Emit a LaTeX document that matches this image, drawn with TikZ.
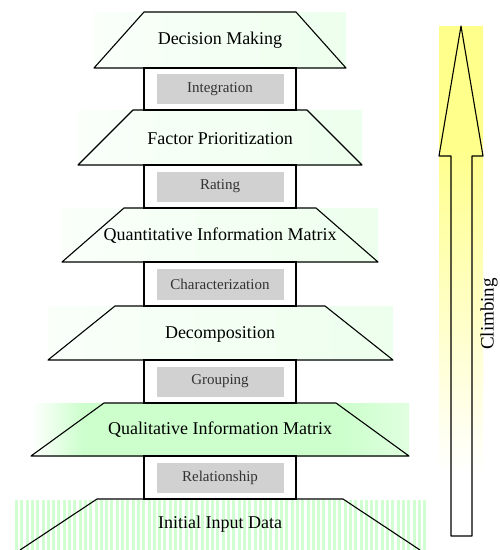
\documentclass[tikz,border=0pt]{standalone}
\usepackage{fontspec}
\setmainfont{Liberation Serif}
\pgfdeclarehorizontalshading{qualshade}{100bp}{color(0bp)=(white); color(25bp)=(white); color(32bp)=(green!20); color(66bp)=(green!20); color(75bp)=(green!12); color(100bp)=(green!12)}
\pgfdeclareverticalshading{climbshade}{100bp}{color(0bp)=(white); color(31bp)=(white); color(63bp)=(yellow!45); color(100bp)=(yellow!45)}
\tikzset{
  layer/.style={line width=1.1pt, line join=round},
  pale/.style={left color=green!2, right color=green!7},
  linkbox/.style={draw, line width=1.6pt, fill=white, minimum width=152pt, inner sep=0pt},
  steplabel/.style={fill=black!18, text=black!80, minimum width=127pt, inner sep=0pt, font=\fontsize{15}{17}\selectfont},
  layerlabel/.style={font=\fontsize{18}{20}\selectfont},
}

\begin{document}
\begin{tikzpicture}[x=1pt, y=-1pt]
    \useasboundingbox (0,0) rectangle (500,550);

    % layer backgrounds
    \shade[pale] (94,12)  rectangle (346,68);
    \shade[pale] (78,110) rectangle (362,165);
    \shade[pale] (62,208) rectangle (378,262);
    \shade[pale] (48,306) rectangle (393,360);
    \shade[shading=qualshade] (31,403) rectangle (409,456);
    \foreach \x in {15,20.3,...,427}
        \fill[green!18] (\x,500) rectangle ++(3,50);

    % layer outlines
    \draw[layer] (144,12)  -- (296,12)  -- (346,68)  -- (94,68)  -- cycle;
    \draw[layer] (133,110) -- (307,110) -- (362,165) -- (78,165) -- cycle;
    \draw[layer] (124,208) -- (316,208) -- (378,262) -- (62,262) -- cycle;
    \draw[layer] (115,306) -- (325,306) -- (393,360) -- (48,360) -- cycle;
    \draw[layer] (104,403) -- (336,403) -- (409,456) -- (31,456) -- cycle;
    \draw[layer] (20,550)  -- (97,499)  -- (343,499) -- (420,550);

    \node[layerlabel] (decide)  at (220,40)  {Decision Making};
    \node[layerlabel] (factor)  at (220,139) {Factor Prioritization};
    \node[layerlabel] (quanti)  at (220,236) {Quantitative Information Matrix};
    \node[layerlabel] (decomp)  at (220,334) {Decomposition};
    \node[layerlabel] (quali)   at (220,430) {Qualitative Information Matrix};
    \node[layerlabel] (initial) at (220,524) {Initial Input Data};

    % links between layers
    \node[linkbox, minimum height=42pt] (box1) at (220,89)    {};
    \node[linkbox, minimum height=43pt] (box2) at (220,186.5) {};
    \node[linkbox, minimum height=44pt] (box3) at (220,284)   {};
    \node[linkbox, minimum height=43pt] (box4) at (220,381.5) {};
    \node[linkbox, minimum height=43pt] (box5) at (220,477.5) {};

    \node[steplabel, minimum height=30pt] (integ)  at (box1) {Integration};
    \node[steplabel, minimum height=30pt] (rating) at (box2) {Rating};
    \node[steplabel, minimum height=31pt] (charac) at (box3) {Characterization};
    \node[steplabel, minimum height=30pt] (group)  at (box4) {Grouping};
    \node[steplabel, minimum height=30pt] (relat)  at (box5) {Relationship};

    % climbing arrow
    \shade[shading=climbshade] (439,26) rectangle (483,536);
    \draw[layer] (461,26) -- (483,156) -- (472,156) -- (472,536) -- (451,536) -- (451,156) -- (439,156) -- cycle;
    \node[rotate=90, font=\fontsize{19}{21}\selectfont] (climb) at (489,314) {Climbing};
\end{tikzpicture}
\end{document}
